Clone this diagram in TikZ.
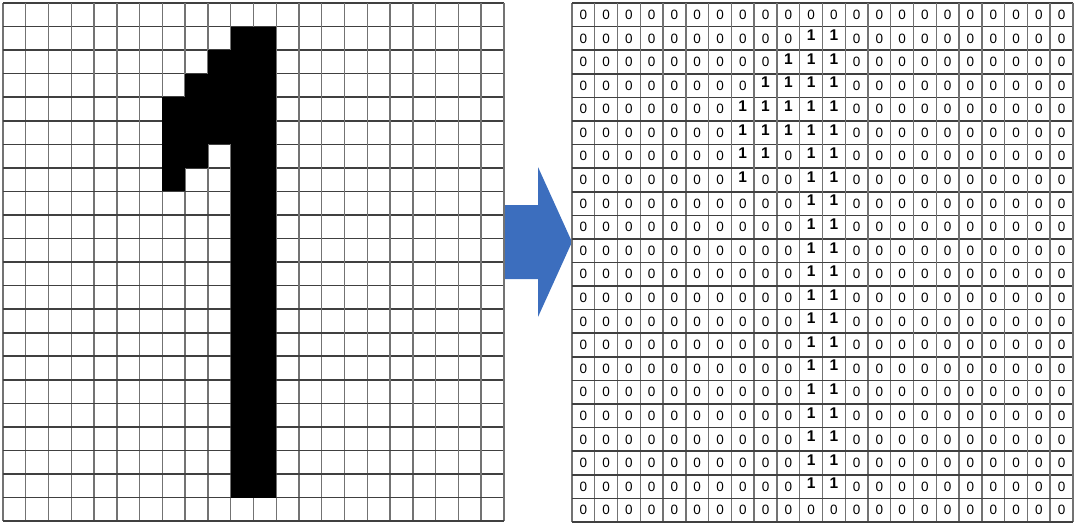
\documentclass[tikz,border=0pt]{standalone}
\usepackage{fontspec}
\setmainfont{Liberation Sans}
\usepackage{xcolor}

\definecolor{arrowblue}{RGB}{60,110,190}

% Pixels of the digit, one row per line, top to bottom
\newcommand{\digitrows}{%
  {0,0,0,0,0,0,0,0,0,0,0,0,0,0,0,0,0,0,0,0,0,0},
  {0,0,0,0,0,0,0,0,0,0,1,1,0,0,0,0,0,0,0,0,0,0},
  {0,0,0,0,0,0,0,0,0,1,1,1,0,0,0,0,0,0,0,0,0,0},
  {0,0,0,0,0,0,0,0,1,1,1,1,0,0,0,0,0,0,0,0,0,0},
  {0,0,0,0,0,0,0,1,1,1,1,1,0,0,0,0,0,0,0,0,0,0},
  {0,0,0,0,0,0,0,1,1,1,1,1,0,0,0,0,0,0,0,0,0,0},
  {0,0,0,0,0,0,0,1,1,0,1,1,0,0,0,0,0,0,0,0,0,0},
  {0,0,0,0,0,0,0,1,0,0,1,1,0,0,0,0,0,0,0,0,0,0},
  {0,0,0,0,0,0,0,0,0,0,1,1,0,0,0,0,0,0,0,0,0,0},
  {0,0,0,0,0,0,0,0,0,0,1,1,0,0,0,0,0,0,0,0,0,0},
  {0,0,0,0,0,0,0,0,0,0,1,1,0,0,0,0,0,0,0,0,0,0},
  {0,0,0,0,0,0,0,0,0,0,1,1,0,0,0,0,0,0,0,0,0,0},
  {0,0,0,0,0,0,0,0,0,0,1,1,0,0,0,0,0,0,0,0,0,0},
  {0,0,0,0,0,0,0,0,0,0,1,1,0,0,0,0,0,0,0,0,0,0},
  {0,0,0,0,0,0,0,0,0,0,1,1,0,0,0,0,0,0,0,0,0,0},
  {0,0,0,0,0,0,0,0,0,0,1,1,0,0,0,0,0,0,0,0,0,0},
  {0,0,0,0,0,0,0,0,0,0,1,1,0,0,0,0,0,0,0,0,0,0},
  {0,0,0,0,0,0,0,0,0,0,1,1,0,0,0,0,0,0,0,0,0,0},
  {0,0,0,0,0,0,0,0,0,0,1,1,0,0,0,0,0,0,0,0,0,0},
  {0,0,0,0,0,0,0,0,0,0,1,1,0,0,0,0,0,0,0,0,0,0},
  {0,0,0,0,0,0,0,0,0,0,1,1,0,0,0,0,0,0,0,0,0,0},
  {0,0,0,0,0,0,0,0,0,0,0,0,0,0,0,0,0,0,0,0,0,0}}

\begin{document}
\begin{tikzpicture}[x=1pt,y=-1pt,
    hline/.style={draw=black!75,line width=1.6pt},
    vline/.style={draw=black!55,line width=1.4pt},
    bit/.style={inner sep=0pt,font=\fontsize{13.5}{13.5}\selectfont},
    one/.style={bit,font=\fontsize{15.5}{15.5}\selectfont\bfseries,yshift=3pt}]
  \useasboundingbox (0,0) rectangle (1078,527);

  % Block arrow between the two grids
  \fill[arrowblue] (505,205) -- (538,205) -- (538,167) -- (572,242)
    -- (538,317) -- (538,279) -- (505,279) -- cycle;

  % Left grid - the image
  \begin{scope}[shift={(3,3)},x=22.77pt,y=-23.55pt]
    \foreach \i in {0,...,22} {
      \draw[vline] (\i,0) -- (\i,22);
      \draw[hline] (0,\i) -- (22,\i);
    }
    % Black pixels
    \foreach \bits [count=\r from 0] in \digitrows
      \foreach \v [count=\c from 0] in \bits {
        \ifnum\v=1 \fill (\c,\r) rectangle +(1,1); \fi
      }
  \end{scope}

  % Right grid - the matrix of values
  \begin{scope}[shift={(572,3)},x=22.77pt,y=-23.59pt]
    \foreach \i in {0,...,22} {
      \draw[vline] (\i,0) -- (\i,22);
      \draw[hline] (0,\i) -- (22,\i);
    }
    % Values
    \foreach \bits [count=\r from 0] in \digitrows
      \foreach \v [count=\c from 0] in \bits {
        \ifnum\v=1
          \node[one] (b-\r-\c) at (\c+0.5,\r+0.5) {1};
        \else
          \node[bit] (b-\r-\c) at (\c+0.5,\r+0.5) {0};
        \fi
      }
  \end{scope}
\end{tikzpicture}
\end{document}
